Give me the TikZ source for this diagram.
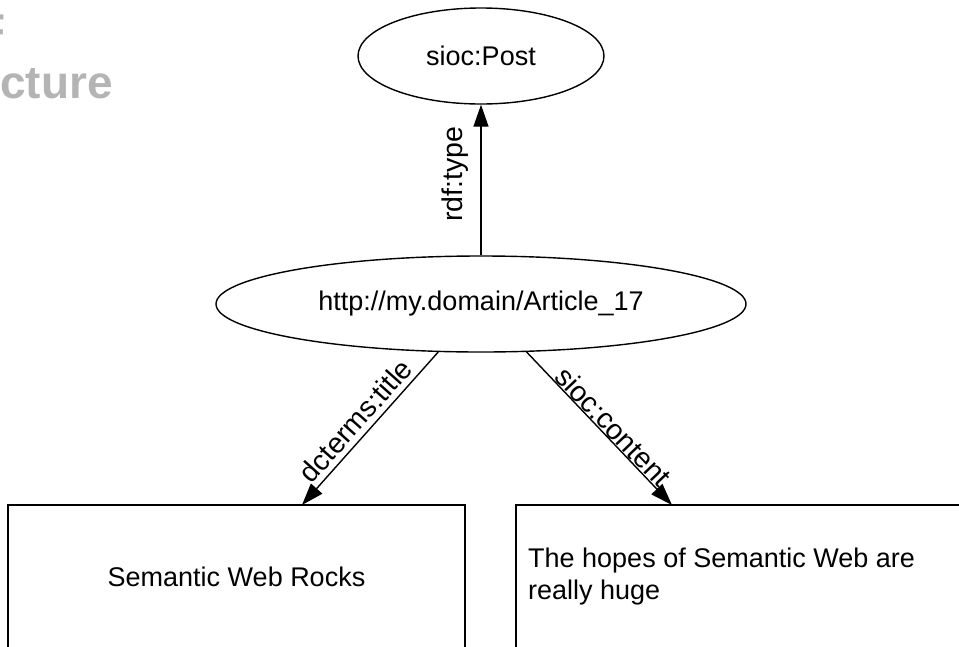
\documentclass[tikz,border=0pt]{standalone}
\usepackage{fontspec}
\setmainfont{Liberation Sans}
\usetikzlibrary{shapes.geometric,arrows.meta}
\definecolor{titlegray}{HTML}{B4B4B4}
\begin{document}
\begin{tikzpicture}[x=1pt,y=-1pt,
  every node/.style={font=\fontsize{27}{32}\selectfont},
  res/.style={ellipse, draw, line width=1.4pt, inner sep=0pt},
  lit/.style={draw, line width=1.6pt, inner sep=0pt},
  rel/.style={line width=1.4pt, -{Triangle[length=22pt,width=15pt]}},
  edgelbl/.style={sloped, above, inner sep=2pt, font=\fontsize{28.5}{32}\selectfont},
  headline/.style={font=\fontsize{46}{55}\selectfont\bfseries, text=titlegray, inner sep=0pt}
]
\useasboundingbox (0,0) rectangle (959,646);
\begin{scope}
  \clip (0,0) rectangle (959,646);
  % slide heading, cut off at the left edge
  \node[headline, anchor=base west] (head1) at (-23,46) {F};
  \node[headline, anchor=base west] (head2) at (0,98) {cture};

  % resources
  \node[res, minimum width=246pt, minimum height=96pt] (post) at (481,56) {sioc:Post};
  \node[res, minimum width=530pt, minimum height=96pt] (art) at (481,304) {http://my.domain/Article\_17};

  % literal values
  \node[lit, minimum width=457pt, minimum height=195pt] (title) at (236.5,602.5) {};
  \node[lit, minimum width=494pt, minimum height=195pt] (content) at (763,602.5) {};
  \node (titletext) at (236.5,577) {Semantic Web Rocks};
  \node[anchor=west, align=left, inner sep=0pt] (contenttext) at (528,577) {The hopes of Semantic Web are\\really huge};

  \coordinate (t1) at (302,505);
  \coordinate (t2) at (672,505);

  % properties
  \draw[rel] (art) -- node[edgelbl, inner sep=12pt, pos=0.54] {rdf:type} (post);
  \draw[rel] (art) -- node[edgelbl, pos=0.52, inner sep=5pt] {dcterms:title} (t1);
  \draw[rel] (art) -- node[edgelbl, pos=0.54, inner sep=0.5pt] {sioc:content} (t2);
\end{scope}
\end{tikzpicture}
\end{document}
